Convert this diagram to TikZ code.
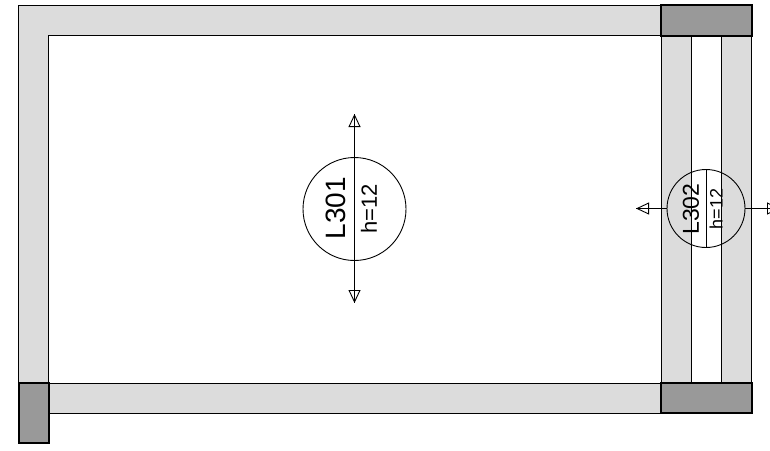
\documentclass[tikz,border=0pt]{standalone}
\usepackage{fontspec}
\setmainfont{Liberation Sans}
\usetikzlibrary{arrows.meta}
\definecolor{wallgrey}{RGB}{220,220,220}
\definecolor{colgrey}{RGB}{153,153,153}
\tikzset{
  wall/.style={fill=wallgrey,draw=black,line width=1pt},
  column/.style={fill=colgrey,draw=black,line width=2pt},
  slab/.style={circle,draw=black,line width=0.9pt,fill=none,inner sep=0pt},
  openhead/.style={-{Triangle[open,length=13pt,width=12pt,line width=0.9pt]}},
  spanline/.style={draw=black,line width=0.9pt},
}
\begin{document}
\begin{tikzpicture}[x=1pt,y=-1pt]
  \def\xa{18.5};
  \def\xb{48.5};
  \def\xc{661};
  \def\xd{691};
  \def\xe{721.5};
  \def\xf{751.5};
  \def\ya{5};
  \def\yb{35.5};
  \def\yc{383};
  \def\yd{413};
  \def\ye{443};
  \useasboundingbox (0,0) rectangle (770,450);
  %walls
  \filldraw[wall] (\xa,\ya)--(\xf,\ya)--(\xf,\yb)--(\xb,\yb)--(\xb,\yc)--(\xa,\yc)--cycle;
  \filldraw[wall] (\xb,\yc) rectangle (\xc,\yd);
  \filldraw[wall] (\xc,\yb) rectangle (\xd,\yc);
  \filldraw[wall] (\xe,\yb) rectangle (\xf,\yc);
  %columns
  \filldraw[column] (\xc,\ya) rectangle (\xf,\yb);
  \filldraw[column] (\xc,\yc) rectangle (\xf,\yd);
  \filldraw[column] (\xa,\yc) rectangle (\xb,\ye);
  %L301
  \node[slab,minimum size=103pt] (s301) at (354.5,209) {};
  \coordinate (s301top) at (354.5,114);
  \coordinate (s301bot) at (354.5,303);
  \draw[spanline] (s301top)--(s301bot);
  \draw[spanline,openhead] (s301.north)--(s301top);
  \draw[spanline,openhead] (s301.south)--(s301bot);
  \node[rotate=90,font=\fontsize{28}{28}\selectfont] (l301) at (335.5,208) {L301};
  \node[rotate=90,font=\fontsize{22}{22}\selectfont] (h301) at (369,209) {h=12};
  %L302
  \node[slab,minimum size=78pt] (s302) at (706,208.5) {};
  \coordinate (s302left) at (636,208.5);
  \coordinate (s302right) at (780,208.5);
  \draw[spanline] (s302.north)--(s302.south);
  \draw[spanline] (s302.west)--(s302left);
  \draw[spanline] (s302.east)--(s302right);
  \draw[spanline,openhead] (s302.west)--(s302left);
  \draw[spanline,openhead] (s302.east)--(s302right);
  \node[rotate=90,font=\fontsize{23}{23}\selectfont] (l302) at (691,209) {L302};
  \node[rotate=90,font=\fontsize{18}{18}\selectfont] (h302) at (716,209) {h=12};
\end{tikzpicture}
\end{document}
